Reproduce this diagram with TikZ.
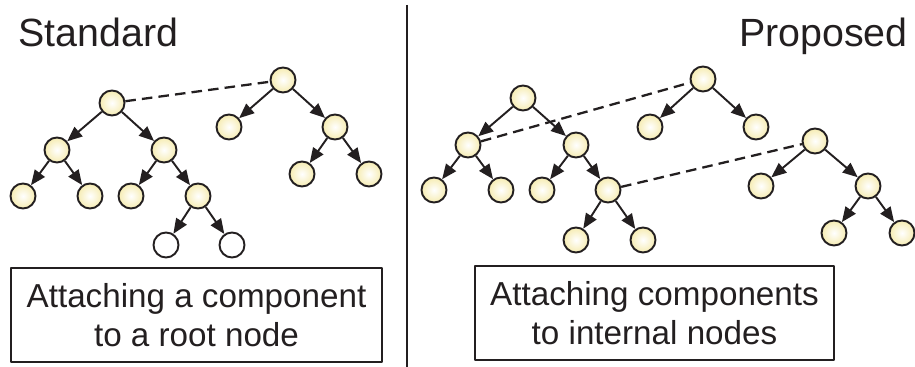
\documentclass[tikz,border=0pt]{standalone}
\usepackage{fontspec}
\setmainfont{Liberation Sans}
\usetikzlibrary{arrows.meta}
\definecolor{nutfill}{RGB}{246,236,178}
\definecolor{ink}{RGB}{35,31,32}
\begin{document}
\begin{tikzpicture}[x=0.02cm,y=-0.02cm,line join=round,
	nut/.style={circle,draw=ink,line width=1.1pt,minimum size=0.5cm,inner sep=0pt,shading=radial,inner color=white,outer color=nutfill},
	hollow/.style={circle,draw=ink,line width=1.1pt,minimum size=0.5cm,inner sep=0pt,fill=white},
	tip/.style={draw=ink,line width=1.1pt,-{Triangle[length=8.5pt,width=7pt]}},
	link/.style={draw=ink,line width=1.3pt,dash pattern=on 6pt off 3.5pt},
	caption/.style={draw=ink,line width=0.85pt,align=center,text=ink,font=\fontsize{18.9}{22.2}\selectfont,minimum height=1.88cm,inner sep=0pt},
	heading/.style={text=ink,font=\fontsize{22.4}{26}\selectfont,inner sep=0pt}]
	\useasboundingbox (0,0) rectangle (915,367);
	%==Standard: component hung on the root
	\node[nut] (s0) at (112,103) {};
	\node[nut] (s1) at (57,150) {};
	\node[nut] (s2) at (164,150) {};
	\node[nut] (s3) at (23,196) {};
	\node[nut] (s4) at (90,196) {};
	\node[nut] (s5) at (131,196) {};
	\node[nut] (s6) at (198,196) {};
	\node[hollow] (s7) at (166,245) {};
	\node[hollow] (s8) at (232,245) {};
	\node[nut] (t0) at (283,80) {};
	\node[nut] (t1) at (229,127) {};
	\node[nut] (t2) at (335,127) {};
	\node[nut] (t3) at (302,174) {};
	\node[nut] (t4) at (369,174) {};
	\foreach \u/\v in {s0/s1,s0/s2,s1/s3,s1/s4,s2/s5,s2/s6,s6/s7,s6/s8,t0/t1,t0/t2,t2/t3,t2/t4}
		{\draw[tip] (\u)--(\v);}
	\draw[link] (s0)--(t0);
	%==Proposed: components hung on internal nodes
	\node[nut] (a0) at (523,98) {};
	\node[nut] (a1) at (468,145) {};
	\node[nut] (a2) at (576,145) {};
	\node[nut] (a3) at (434,190) {};
	\node[nut] (a4) at (501,190) {};
	\node[nut] (a5) at (542,190) {};
	\node[nut] (a6) at (608,190) {};
	\node[nut] (a7) at (576,240) {};
	\node[nut] (a8) at (643,240) {};
	\node[nut] (b0) at (703,79) {};
	\node[nut] (b1) at (650,127) {};
	\node[nut] (b2) at (756,127) {};
	\node[nut] (c0) at (815,141) {};
	\node[nut] (c1) at (761,186) {};
	\node[nut] (c2) at (868,186) {};
	\node[nut] (c3) at (834,233) {};
	\node[nut] (c4) at (902,233) {};
	\foreach \u/\v in {a0/a1,a0/a2,a1/a3,a1/a4,a2/a5,a2/a6,a6/a7,a6/a8,b0/b1,b0/b2,c0/c1,c0/c2,c2/c3,c2/c4}
		{\draw[tip] (\u)--(\v);}
	\draw[link] (a1)--(b0) (a6)--(c0);
	%==headings, captions, divider
	\node[heading,anchor=base west] (hs) at (18,47) {Standard};
	\node[heading,anchor=base east] (hp) at (908,47) {Proposed};
	\node[caption,minimum width=7.42cm] (cs) at (196.5,315) {Attaching a component\\to a root node};
	\node[caption,minimum width=7.18cm] (cp) at (654.5,313) {Attaching components\\to internal nodes};
	\coordinate (d0) at (407,5);
	\coordinate (d1) at (407,367);
	\draw[ink,line width=0.6pt] (d0)--(d1);
\end{tikzpicture}
\end{document}
